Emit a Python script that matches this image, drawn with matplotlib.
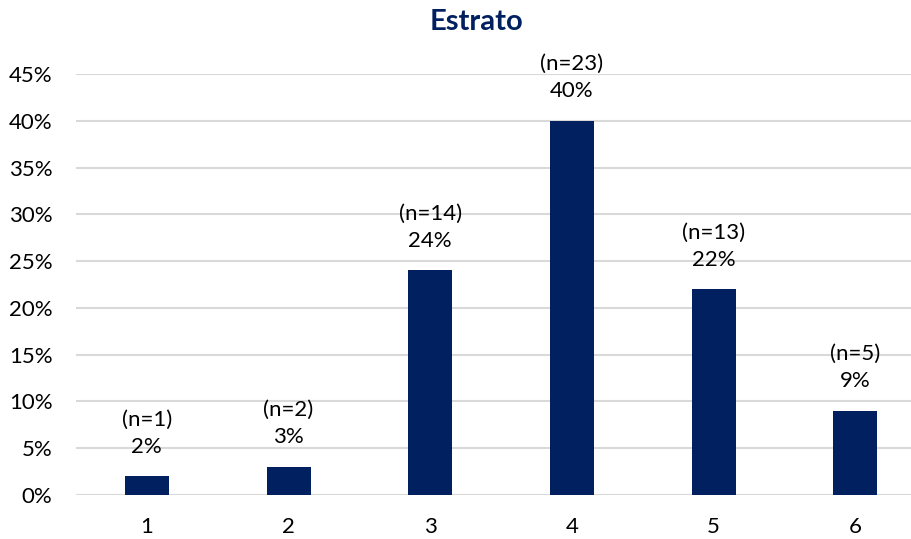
import matplotlib
matplotlib.use("Agg")
import matplotlib.pyplot as plt
import numpy as np

categories = ["1", "2", "3", "4", "5", "6"]
percent = [2, 3, 24, 40, 22, 9]
counts = [1, 2, 14, 23, 13, 5]
yticks = [0, 5, 10, 15, 20, 25, 30, 35, 40, 45]

plt.rcParams['font.family'] = ['Lato', 'DejaVu Sans']

fig = plt.figure(figsize=(9.12, 5.39), dpi=100)
W, H = 912, 539
ax = fig.add_axes([76 / W, 44 / H, (912 - 76) / W, (495 - 74) / H])

x = np.arange(len(categories))
ax.bar(x, percent, width=0.31, color='#002060', zorder=3)

for xi, p, n in zip(x, percent, counts):
    ax.annotate("(n=%d)\n%d%%" % (n, p), (xi, p), xytext=(0, 14),
                textcoords='offset points', ha='center', va='bottom',
                fontsize=16, linespacing=1.45, color='#000000')

ax.set_xlim(-0.5, 5.4)
ax.set_ylim(0, 45)
ax.set_yticks(yticks)
ax.set_yticklabels(["%d%%" % t for t in yticks])
ax.set_xticks(x)
ax.set_xticklabels(categories)
ax.tick_params(axis='both', length=0, labelsize=16, colors='#000000')
ax.tick_params(axis='x', pad=16)
ax.tick_params(axis='y', pad=17)
ax.grid(axis='y', color='#d9d9d9', linewidth=1.5, zorder=0)
for s in ax.spines.values():
    s.set_visible(False)

fig.text(477 / W, 1 - 22 / H, "Estrato", ha='center', va='center',
         fontsize=21, fontweight='bold', color='#002060')

fig.savefig("out.png", dpi=100)
